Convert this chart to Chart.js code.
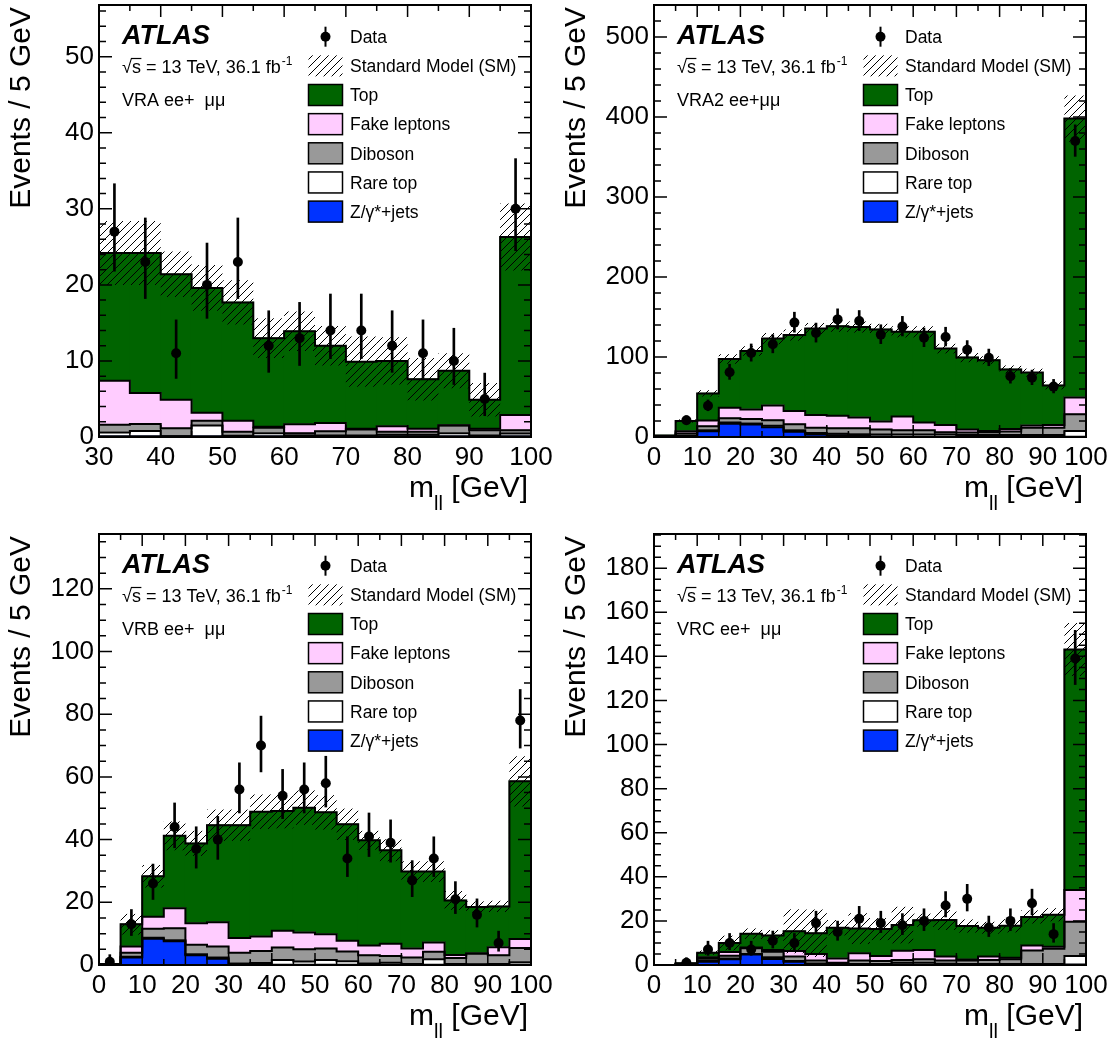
<!DOCTYPE html>
<html><head><meta charset="utf-8">
<script src="https://cdn.jsdelivr.net/npm/chart.js@4.4.1/dist/chart.umd.min.js"></script>
<style>
html,body{margin:0;padding:0;background:#fff;}
body{width:1119px;height:1044px;position:relative;overflow:hidden;}
canvas{position:absolute;}
</style></head><body>
<canvas id="c1" width="555" height="522" style="left:0;top:0;width:555px;height:522px"></canvas>
<canvas id="c2" width="564" height="522" style="left:555px;top:0;width:564px;height:522px"></canvas>
<canvas id="c3" width="555" height="515" style="left:0;top:529px;width:555px;height:515px"></canvas>
<canvas id="c4" width="564" height="515" style="left:555px;top:529px;width:564px;height:515px"></canvas>
<script>
// ---------------- DATA ----------------
const BIN_WIDTH = 5;
const binsVRA = [30,35,40,45,50,55,60,65,70,75,80,85,90,95];
const binsFull = [0,5,10,15,20,25,30,35,40,45,50,55,60,65,70,75,80,85,90,95];

// VRA ee+mumu (30-100 GeV)
const vraTop      = [16.8, 18.4, 16.5, 16.4, 15.55, 11.65, 12.23, 10.15, 8.8, 8.6, 6.5, 7.15, 3.8, 23.4];
const vraFake     = [5.8, 4.1, 3.75, 1.05, 1.45, 0.15, 1.17, 1.1, 0.1, 0.7, 0.4, 0.05, 0.2, 2.0];
const vraDiboson  = [1.0, 0.9, 1.05, 0.65, 0.55, 0.7, 0.3, 0.55, 0.8, 0.4, 0.4, 1.0, 0.7, 0.45];
const vraRareTop  = [0.5, 0.7, 0.0, 1.4, 0.05, 0.4, 0.1, 0.1, 0.1, 0.2, 0.2, 0.4, 0.1, 0.35];
const vraZjets    = [0.1, 0.1, 0.1, 0.1, 0.1, 0.1, 0.1, 0.1, 0.1, 0.1, 0.1, 0.1, 0.1, 0.1];
const vraSMUnc    = [4.2, 4.2, 3.0, 3.0, 2.9, 2.6, 2.6, 2.6, 3.3, 3.1, 2.8, 2.3, 2.2, 4.4];
const vraData     = [27, 23, 11, 20, 23, 12, 13, 14, 14, 12, 11, 10, 5, 30];
const vraDataErrUp= [6.3, 5.8, 4.4, 5.5, 5.8, 4.6, 4.7, 4.8, 4.8, 4.6, 4.4, 4.3, 3.4, 6.6];
const vraDataErrDn= [5.2, 4.8, 3.3, 4.4, 4.8, 3.5, 3.6, 3.7, 3.7, 3.5, 3.3, 3.1, 2.2, 5.5];

// VRA2 ee+mumu
const vra2Top      = [1, 12.8, 34, 61, 73, 83.5, 95, 108, 112, 113, 115, 106, 113.5, 95.5, 90.2, 88.5, 74.5, 66, 49.5, 348.5];
const vra2Fake     = [0.2, 2.7, 7, 13, 12, 18.5, 16.5, 16, 15.5, 13.5, 10, 17, 9.5, 9, 3.8, 1.5, 3.2, 3, 3.5, 21];
const vra2Diboson  = [0.3, 3, 5, 5.5, 5.5, 7, 7.5, 6.5, 7, 7.5, 6.5, 5.5, 5.5, 3, 3, 3.5, 4.3, 9, 9, 21];
const vra2RareTop  = [0.2, 0.5, 1.3, 1.5, 1.5, 1.8, 2, 2, 1.8, 2, 2.4, 2.6, 2.7, 2.7, 2.3, 2.3, 2.3, 2.3, 2.3, 7.2];
const vra2Zjets    = [0.3, 1, 7.2, 16.5, 15.5, 12.2, 6.5, 3, 2.2, 1.5, 0.6, 0.4, 0.3, 0.3, 0.2, 0.2, 0.2, 0.2, 0.2, 0.3];
const vra2SMUnc    = [0.5, 2, 4, 6, 6, 7, 7, 7, 7, 7, 7, 7, 7, 6, 6, 5, 5, 5, 5, 29];
const vra2Data     = [null, 21, 39, 81, 105, 116, 143, 130, 147, 145, 128, 138, 124, 125, 109, 99, 76, 74, 63, 370];
const vra2DataErrUp= [null, 5.6, 7.3, 10.0, 11.3, 11.8, 13.0, 12.4, 13.2, 13.1, 12.3, 12.8, 12.2, 12.2, 11.5, 10.9, 9.7, 9.6, 9.0, 20.2];
const vra2DataErrDn= [null, 4.6, 6.2, 9.0, 10.2, 10.8, 12.0, 11.4, 12.1, 12.0, 11.3, 11.7, 11.1, 11.2, 10.4, 9.9, 8.7, 8.6, 7.9, 19.2];

// VRB ee+mumu
const vrbTop      = [0.1, 7.1, 12.9, 23.1, 25.5, 31, 36, 39.8, 38.2, 39.8, 38.9, 37.2, 33.6, 29.8, 24.5, 22.6, 17.4, 14.8, 13, 50.3];
const vrbFake     = [0.1, 2.0, 3.8, 6.4, 6.8, 7.7, 4.7, 4.6, 5.3, 5.4, 4.5, 3.4, 3.1, 3.9, 2.9, 3.0, 1.0, 0, 2.6, 2.9];
const vrbDiboson  = [0.1, 1.3, 2.9, 3.8, 3.1, 3.5, 3.4, 3.9, 4.0, 3.9, 3.7, 3.1, 2.6, 2.2, 2.1, 2.4, 1.9, 3.5, 2.8, 4.5];
const vrbRareTop  = [0, 0.2, 0.3, 0.3, 0.3, 0.4, 0.2, 0.5, 1.5, 1.0, 1.5, 1.1, 0.4, 0.6, 0.2, 1.7, 0.2, 0.1, 0.2, 0.8];
const vrbZjets    = [0, 2.4, 8.4, 7.6, 3.1, 2.0, 0.3, 0.1, 0.1, 0.1, 0.1, 0.1, 0.1, 0.1, 0.1, 0.1, 0.1, 0.1, 0.1, 0.1];
const vrbSMUnc    = [0.2, 3.3, 3.6, 4.6, 4.0, 5.0, 5.0, 5.5, 5.5, 5.5, 5.5, 5.0, 3.0, 3.5, 3.3, 3.3, 3.0, 1.8, 1.8, 8.0];
const vrbData     = [1, 13, 26, 44, 37, 40, 56, 70, 54, 56, 58, 34, 41, 39, 27, 34, 21, 16, 7, 78];
const vrbDataErrUp= [2.3, 4.7, 6.2, 7.7, 7.1, 7.4, 8.5, 9.4, 8.4, 8.5, 8.6, 6.9, 7.5, 7.3, 6.3, 6.9, 5.6, 5.1, 3.8, 9.9];
const vrbDataErrDn= [0.8, 3.6, 5.1, 6.6, 6.1, 6.3, 7.5, 8.4, 7.3, 7.5, 7.6, 5.8, 6.4, 6.2, 5.2, 5.8, 4.6, 3.9, 2.6, 8.8];

// VRC ee+mumu
const vrcTop      = [0, 0.2, 2.1, 4.1, 6.3, 6.6, 9.0, 9.4, 13.9, 11.2, 12.2, 11.6, 13.5, 16.6, 15.2, 13.1, 14.5, 13.0, 14.5, 109.1];
const vrcFake     = [0, 0.1, 0.5, 1.7, 0.3, 0.8, 2.5, 3.0, 2.0, 3.3, 2.3, 4.2, 4.2, 1.8, 0.5, 1.5, 0.7, 2.2, 0.9, 14.4];
const vrcDiboson  = [0, 0.2, 1.0, 1.2, 2.6, 2.5, 2.0, 1.3, 0.6, 1.6, 1.3, 1.3, 1.6, 1.4, 1.6, 1.9, 2.2, 6.2, 7.0, 15.5];
const vrcRareTop  = [0, 0.1, 0.5, 0.4, 0.2, 0.8, 0.3, 0.2, 0.2, 0.2, 0.3, 0.8, 0.9, 0.5, 0.3, 0.3, 0.3, 0.3, 0.3, 3.9];
const vrcZjets    = [0, 0.2, 1.5, 2.6, 4.8, 2.7, 1.5, 0.5, 0.2, 0.2, 0.2, 0.2, 0.1, 0.1, 0.1, 0.1, 0.1, 0.1, 0.1, 0.2];
const vrcSMUnc    = [0, 0.3, 1.0, 3.3, 2.4, 2.5, 10, 10.8, 3.5, 7, 5, 8.3, 3, 4.5, 3, 2.7, 3, 3, 3, 12];
const vrcData     = [null, 1, 7, 10, 7, 11, 10, 19, 15, 21, 19, 18, 20, 27, 30, 17, 20, 28, 14, 139];
const vrcDataErrUp= [null, 2.3, 3.8, 4.3, 3.8, 4.4, 4.3, 5.4, 4.9, 5.6, 5.4, 5.3, 5.5, 6.3, 6.6, 5.2, 5.5, 6.4, 4.8, 12.8];
const vrcDataErrDn= [null, 0.8, 2.6, 3.1, 2.6, 3.3, 3.1, 4.3, 3.8, 4.6, 4.3, 4.2, 4.4, 5.2, 5.5, 4.1, 4.4, 5.3, 3.7, 11.8];

// Text
const Y_TITLE = 'Events / 5 GeV';
const LEGEND_LABELS = ['Data', 'Standard Model (SM)', 'Top', 'Fake leptons', 'Diboson', 'Rare top', 'Z/\u03b3*+jets'];
const REGION_LABELS = ['VRA ee+  \u03bc\u03bc', 'VRA2 ee+\u03bc\u03bc', 'VRB ee+  \u03bc\u03bc', 'VRC ee+  \u03bc\u03bc'];

// ---------------- STYLE ----------------
const FONT = "'Liberation Sans', Arial, Helvetica, sans-serif";
const COMP_COLORS = ['#0033ff', '#ffffff', '#999999', '#ffccff', '#006400']; // Z, rare, diboson, fake, top (bottom->top)

const tile = document.createElement('canvas');
tile.width = 8; tile.height = 8;
(function(){
  const g = tile.getContext('2d');
  g.strokeStyle = '#000'; g.lineWidth = 1;
  g.beginPath();
  g.moveTo(-1, 9); g.lineTo(9, -1);
  g.moveTo(-2, 2); g.lineTo(2, -2);
  g.moveTo(6, 10); g.lineTo(10, 6);
  g.stroke();
})();

const framePlugin = {
  id: 'frame',
  afterDatasetsDraw(chart) {
    const p = chart.config.options.plugins.frame;
    const {ctx, chartArea: {left, right, top, bottom}, scales: {x, y}} = chart;
    ctx.save();
    ctx.strokeStyle = '#000';
    ctx.lineWidth = 1.5;
    ctx.beginPath();
    const isMajor = (v, m) => Math.abs(v / m - Math.round(v / m)) < 1e-6;
    for (let v = p.xmin; v <= p.xmax + 1e-9; v += p.xMinor) {
      const px = x.getPixelForValue(v);
      const L = isMajor(v, p.xMajor) ? 12 : 6;
      ctx.moveTo(px, bottom); ctx.lineTo(px, bottom - L);
      ctx.moveTo(px, top); ctx.lineTo(px, top + L);
    }
    for (let v = 0; v <= p.ymax + 1e-9; v += p.yMinor) {
      const py = y.getPixelForValue(v);
      const L = isMajor(v, p.yMajor) ? 13 : 7;
      ctx.moveTo(left, py); ctx.lineTo(left + L, py);
      ctx.moveTo(right, py); ctx.lineTo(right - L, py);
    }
    ctx.stroke();
    ctx.lineWidth = 2;
    ctx.strokeRect(left, top, right - left, bottom - top);
    ctx.restore();
  }
};

const annotPlugin = {
  id: 'annot',
  afterDraw(chart) {
    const o = chart.config.options.plugins.annot;
    const {ctx, chartArea: {left, right, top, bottom}} = chart;
    const hatch = ctx.createPattern(tile, 'repeat');
    ctx.save();
    ctx.fillStyle = '#000';
    // y title
    ctx.save();
    ctx.translate(left - 77, top + 2);
    ctx.rotate(-Math.PI / 2);
    ctx.font = `30px ${FONT}`;
    ctx.textAlign = 'right'; ctx.textBaseline = 'middle';
    ctx.fillText(Y_TITLE, 0, 0);
    ctx.restore();
    // x title m_ll [GeV]
    ctx.textBaseline = 'alphabetic'; ctx.textAlign = 'left';
    const big = `30px ${FONT}`, sub = `20px ${FONT}`;
    ctx.font = big; const wm = ctx.measureText('m').width; const wg = ctx.measureText(' [GeV]').width;
    ctx.font = sub; const wl = ctx.measureText('ll').width;
    let xs = right - 3 - (wm + wl + wg);
    const by = bottom + 60;
    ctx.font = big; ctx.fillText('m', xs, by); xs += wm;
    ctx.font = sub; ctx.fillText('ll', xs, by + 13); xs += wl;
    ctx.font = big; ctx.fillText(' [GeV]', xs, by);
    // ATLAS
    const tx = left + 23;
    ctx.font = `italic bold 27px ${FONT}`;
    ctx.fillText('ATLAS', tx, top + 39);
    // sqrt(s) line
    ctx.font = `18px ${FONT}`;
    const b2 = top + 67.5;
    ctx.fillText('\u221a', tx, b2);
    const wr = ctx.measureText('\u221a').width;
    const rest = 's = 13 TeV, 36.1 fb';
    ctx.fillText(rest, tx + wr, b2);
    const ws = ctx.measureText('s').width;
    ctx.lineWidth = 1.2; ctx.strokeStyle = '#000';
    ctx.beginPath(); ctx.moveTo(tx + wr - 1, b2 - 14); ctx.lineTo(tx + wr + ws + 0.5, b2 - 14); ctx.stroke();
    const wrest = ctx.measureText(rest).width;
    ctx.font = `12px ${FONT}`;
    ctx.fillText('-1', tx + wr + wrest + 1, b2 - 8);
    // region
    ctx.font = `18px ${FONT}`;
    ctx.fillText(o.region, tx, top + 100.5);
    // legend
    const bx = left + 209.5, bw = 34, bh = 21, lx = left + 251;
    ctx.font = `17.5px ${FONT}`;
    LEGEND_LABELS.forEach((lab, i) => {
      const ry = top + 31.7 + 29.15 * i;
      if (i === 0) {
        ctx.beginPath(); ctx.arc(bx + bw / 2, ry, 5, 0, Math.PI * 2); ctx.fill();
        ctx.lineWidth = 2; ctx.beginPath(); ctx.moveTo(bx + bw / 2, ry - 10); ctx.lineTo(bx + bw / 2, ry + 10); ctx.stroke();
      } else if (i === 1) {
        ctx.save(); ctx.fillStyle = hatch; ctx.fillRect(bx, ry - bh / 2, bw, bh); ctx.restore();
      } else {
        ctx.save();
        ctx.fillStyle = COMP_COLORS[6 - i];
        ctx.fillRect(bx, ry - bh / 2, bw, bh);
        ctx.lineWidth = 1.5; ctx.strokeStyle = '#000';
        ctx.strokeRect(bx, ry - bh / 2, bw, bh);
        ctx.restore();
      }
      ctx.fillStyle = '#000';
      ctx.fillText(lab, lx, ry + 6.3);
    });
    ctx.restore();
  }
};

function buildPanel(id, cfg) {
  const canvas = document.getElementById(id);
  const ctx = canvas.getContext('2d');
  const hatch = ctx.createPattern(tile, 'repeat');
  const bins = cfg.bins;
  const centers = bins.map(b => b + BIN_WIDTH / 2);
  const datasets = [];
  let base = bins.map(() => 0);
  const cums = [];
  cfg.layers.forEach((arr, k) => {
    const lo = base.slice();
    const hi = base.map((b, i) => b + arr[i]);
    datasets.push({
      type: 'bar', label: 'comp' + k,
      data: centers.map((c, i) => ({x: c, y: [lo[i], hi[i]]})),
      backgroundColor: COMP_COLORS[k], borderWidth: 0, inflateAmount: 0.6,
      barPercentage: 1.0, categoryPercentage: 1.0, grouped: false, order: 50
    });
    cums.push(hi);
    base = hi;
  });
  cums.forEach((hi, k) => {
    const pts = bins.map((b, i) => ({x: b, y: hi[i]}));
    pts.push({x: bins[bins.length - 1] + BIN_WIDTH, y: hi[hi.length - 1]});
    datasets.push({
      type: 'line', label: 'outline' + k, data: pts, stepped: true,
      borderColor: '#000', borderWidth: 2, pointRadius: 0, fill: false, order: 40
    });
  });
  const total = base;
  datasets.push({
    type: 'bar', label: 'SM unc',
    data: centers.map((c, i) => ({x: c, y: [total[i] - cfg.unc[i], total[i] + cfg.unc[i]]})),
    backgroundColor: hatch, borderWidth: 0, barPercentage: 1.0, categoryPercentage: 1.0, inflateAmount: 0,
    grouped: false, order: 30
  });
  const idx = centers.map((c, i) => i).filter(i => cfg.data[i] !== null);
  datasets.push({
    type: 'bar', label: 'Data err',
    data: idx.map(i => ({x: centers[i], y: [cfg.data[i] - cfg.errDn[i], cfg.data[i] + cfg.errUp[i]]})),
    backgroundColor: '#000', borderWidth: 0, barThickness: 2, grouped: false, order: 20
  });
  datasets.push({
    type: 'line', label: 'Data',
    data: idx.map(i => ({x: centers[i], y: cfg.data[i]})),
    showLine: false, pointRadius: 5, pointBackgroundColor: '#000', pointBorderWidth: 0, order: 10
  });

  const W = canvas.width, H = canvas.height;
  const A = cfg.area;
  new Chart(ctx, {
    type: 'bar',
    data: {datasets},
    options: {
      responsive: false, animation: false, devicePixelRatio: 1,
      layout: {padding: {left: 0, top: A.top, right: W - A.right, bottom: H - A.bottom - 75}},
      plugins: {
        legend: {display: false}, tooltip: {enabled: false},
        frame: {xmin: cfg.xmin, xmax: cfg.xmax, xMajor: 10, xMinor: 5, ymax: cfg.ymax, yMajor: cfg.yMajor, yMinor: cfg.yMinor},
        annot: {region: cfg.region}
      },
      scales: {
        x: {
          type: 'linear', min: cfg.xmin, max: cfg.xmax, offset: false,
          grid: {display: false, drawTicks: false}, border: {display: false},
          ticks: {stepSize: 10, autoSkip: false, maxRotation: 0, includeBounds: false, padding: 5,
                  color: '#000', font: {family: FONT, size: 26}},
          afterFit: s => { s.height = 75; s.paddingLeft = 0; s.paddingRight = 0; }
        },
        y: {
          type: 'linear', min: 0, max: cfg.ymax,
          grid: {display: false, drawTicks: false}, border: {display: false},
          ticks: {stepSize: cfg.yMajor, autoSkip: false, includeBounds: false, padding: 5,
                  color: '#000', font: {family: FONT, size: 26}},
          afterFit: s => { s.width = A.left; s.paddingTop = 0; s.paddingBottom = 0; }
        }
      }
    },
    plugins: [framePlugin, annotPlugin]
  });
}

buildPanel('c1', {
  bins: binsVRA, layers: [vraZjets, vraRareTop, vraDiboson, vraFake, vraTop], unc: vraSMUnc,
  data: vraData, errUp: vraDataErrUp, errDn: vraDataErrDn,
  xmin: 30, xmax: 100, ymax: 56.8, yMajor: 10, yMinor: 2, region: REGION_LABELS[0],
  area: {left: 99, right: 531, top: 5, bottom: 437}
});
buildPanel('c2', {
  bins: binsFull, layers: [vra2Zjets, vra2RareTop, vra2Diboson, vra2Fake, vra2Top], unc: vra2SMUnc,
  data: vra2Data, errUp: vra2DataErrUp, errDn: vra2DataErrDn,
  xmin: 0, xmax: 100, ymax: 540, yMajor: 100, yMinor: 20, region: REGION_LABELS[1],
  area: {left: 99, right: 531, top: 5, bottom: 437}
});
buildPanel('c3', {
  bins: binsFull, layers: [vrbZjets, vrbRareTop, vrbDiboson, vrbFake, vrbTop], unc: vrbSMUnc,
  data: vrbData, errUp: vrbDataErrUp, errDn: vrbDataErrDn,
  xmin: 0, xmax: 100, ymax: 137.5, yMajor: 20, yMinor: 5, region: REGION_LABELS[2],
  area: {left: 99, right: 531, top: 5, bottom: 436}
});
buildPanel('c4', {
  bins: binsFull, layers: [vrcZjets, vrcRareTop, vrcDiboson, vrcFake, vrcTop], unc: vrcSMUnc,
  data: vrcData, errUp: vrcDataErrUp, errDn: vrcDataErrDn,
  xmin: 0, xmax: 100, ymax: 195.5, yMajor: 20, yMinor: 5, region: REGION_LABELS[3],
  area: {left: 99, right: 531, top: 5, bottom: 436}
});
</script>
</body></html>
